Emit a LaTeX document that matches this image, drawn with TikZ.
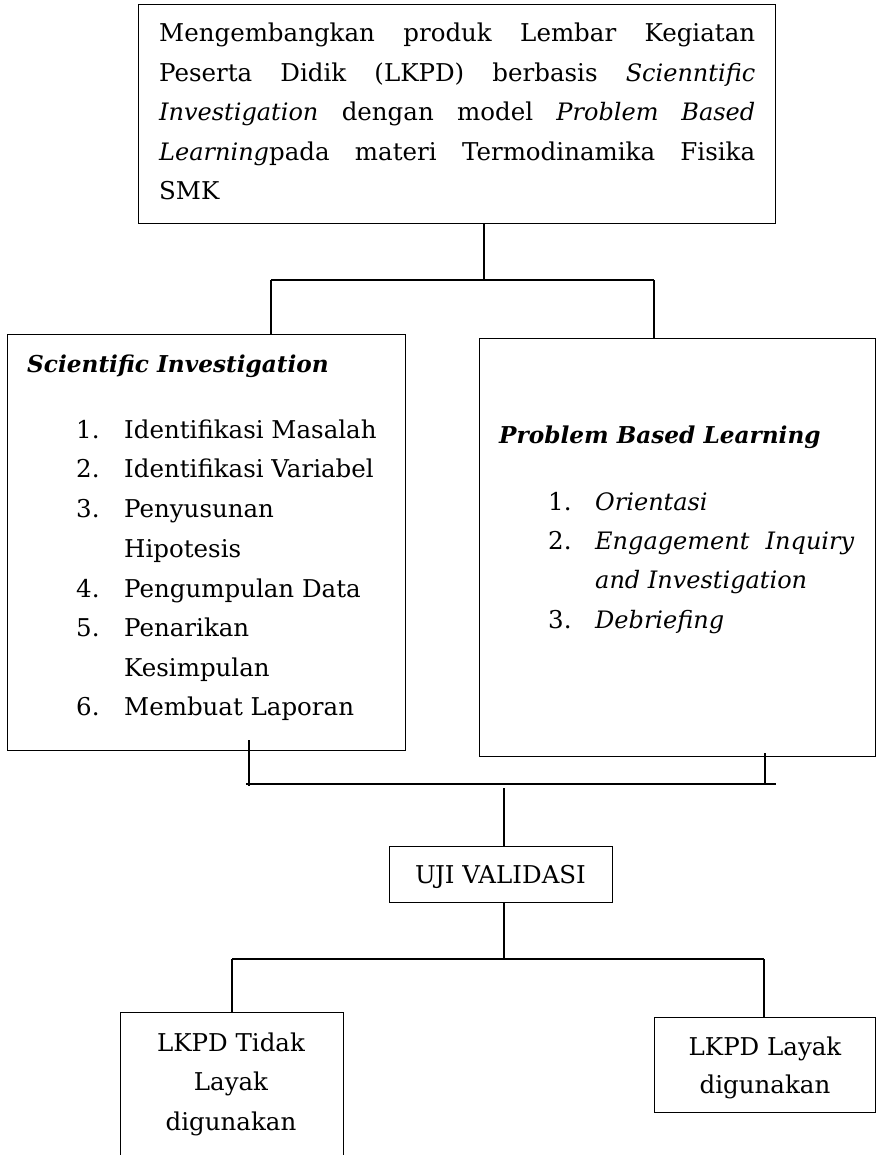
\documentclass[tikz,border=0pt]{standalone}
\usepackage{fontspec}
\setmainfont{DejaVu Serif}
\newcommand{\fs}{\fontsize{24.5pt}{29pt}\selectfont}
\newcommand{\fsi}{\fontsize{24pt}{29pt}\selectfont}
\newcommand{\fsb}{\fontsize{23.2pt}{28pt}\selectfont}
\tikzset{
  box/.style={draw, line width=1.2pt, inner sep=0pt, anchor=north west},
  txt/.style={anchor=base west, inner sep=0pt, font=\fs},
  itxt/.style={anchor=base west, inner sep=0pt, font=\fsi\itshape},
  btxt/.style={anchor=base west, inner sep=0pt, font=\fsb\bfseries\itshape},
  ctxt/.style={anchor=base, inner sep=0pt, font=\fs},
  link/.style={line width=1.2pt},
}
\begin{document}
\begin{tikzpicture}[x=1pt,y=-1pt]
\useasboundingbox (0,0) rectangle (876,1155);
\clip (0,0) rectangle (876,1155);
% boxes
\node[box, minimum width=637pt, minimum height=219pt] (top) at (138,4) {};
\node[box, minimum width=398pt, minimum height=416pt] (si) at (7,334) {};
\node[box, minimum width=396pt, minimum height=418pt] (pbl) at (479,338) {};
\node[box, minimum width=223pt, minimum height=56pt] (uji) at (389,846) {};
\node[box, minimum width=223pt, minimum height=170pt] (tidak) at (120,1012) {};
\node[box, minimum width=221pt, minimum height=95pt] (layak) at (654,1017) {};
% top text
\node[txt] (t1) at (159,42) {\makebox[596pt][s]{Mengembangkan produk Lembar Kegiatan}};
\node[txt] (t2) at (159,81.5) {\makebox[596pt][s]{Peserta Didik (LKPD) berbasis {\fsi\itshape Scienntific}}};
\node[txt] (t3) at (159,121) {\makebox[596pt][s]{{\fsi\itshape Investigation} dengan model {\fsi\itshape Problem Based}}};
\node[txt] (t4) at (159,160.5) {\makebox[596pt][s]{{\fsi\itshape Learning}pada materi Termodinamika Fisika}};
\node[txt] (t5) at (159,200) {SMK};
% left list
\node[btxt] (sit) at (27,372) {Scientific Investigation};
\node[txt] (sn1) at (76,438) {1.};
\node[txt] (si1) at (124,438) {Identifikasi Masalah};
\node[txt] (sn2) at (76,477) {2.};
\node[txt] (si2) at (124,477) {Identifikasi Variabel};
\node[txt] (sn3) at (76,517) {3.};
\node[txt] (si3) at (124,517) {Penyusunan};
\node[txt] (si3b) at (124,557) {Hipotesis};
\node[txt] (sn4) at (76,597) {4.};
\node[txt] (si4) at (124,597) {Pengumpulan Data};
\node[txt] (sn5) at (76,636) {5.};
\node[txt] (si5) at (124,636) {Penarikan};
\node[txt] (si5b) at (124,676) {Kesimpulan};
\node[txt] (sn6) at (76,715) {6.};
\node[txt] (si6) at (124,715) {Membuat Laporan};
% right list
\node[btxt] (pt) at (499,443) {Problem Based Learning};
\node[txt] (pn1) at (548,510) {1.};
\node[itxt] (p1) at (595,510) {Orientasi};
\node[txt] (pn2) at (548,549) {2.};
\node[itxt] (p2) at (595,549) {\makebox[259pt][s]{Engagement Inquiry}};
\node[itxt] (p2b) at (595,588) {and Investigation};
\node[txt] (pn3) at (548,628) {3.};
\node[itxt] (p3) at (595,628) {Debriefing};
% bottom texts
\node[ctxt] (ujit) at (500.5,883) {UJI VALIDASI};
\node[ctxt] (td1) at (231,1051) {LKPD Tidak};
\node[ctxt] (td2) at (231,1090) {Layak};
\node[ctxt] (td3) at (231,1130) {digunakan};
\node[ctxt] (ly1) at (765,1055) {LKPD Layak};
\node[ctxt] (ly2) at (765,1093) {digunakan};
% connectors top
\coordinate (j1) at (484,280);
\coordinate (jl) at (271,280);
\coordinate (jr) at (654,280);
\draw[link] (top.south -| j1) -- (j1);
\draw[link] (jl) -- (jr);
\draw[link] (jl) -- (jl |- si.north);
\draw[link] (jr) -- (jr |- pbl.north);
% connectors middle
\coordinate (ml) at (249,740);
\coordinate (mlb) at (249,786);
\coordinate (mr) at (765,753);
\coordinate (mrb) at (765,784);
\coordinate (hl) at (246,784);
\coordinate (hr) at (776,784);
\coordinate (mu) at (504,788);
\draw[link] (ml) -- (mlb);
\draw[link] (mr) -- (mrb);
\draw[link] (hl) -- (hr);
\draw[link] (mu) -- (mu |- uji.north);
% connectors bottom
\coordinate (b1) at (504,959);
\coordinate (bl) at (232,959);
\coordinate (br) at (764,959);
\draw[link] (uji.south -| b1) -- (b1);
\draw[link] (bl) -- (br);
\draw[link] (bl) -- (bl |- tidak.north);
\draw[link] (br) -- (br |- layak.north);
\end{tikzpicture}
\end{document}
